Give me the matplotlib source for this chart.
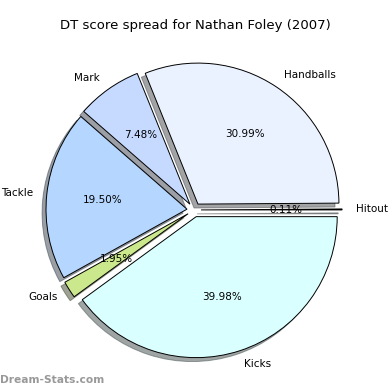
import matplotlib
matplotlib.use('Agg')
import matplotlib.pyplot as plt

labels = ['Hitout', 'Handballs', 'Mark', 'Tackle', 'Goals', 'Kicks']
values = [0.11, 30.99, 7.48, 19.50, 1.95, 39.98]
colors = ['#eaf2ff', '#ebf2ff', '#c6d9ff', '#b5d7ff', '#cbe98c', '#daffff']
explode = [0.05, 0.05, 0.05, 0.05, 0.05, 0.05]

fig = plt.figure(figsize=(3.9, 3.9), dpi=100)
ax = fig.add_axes([0, 0, 1, 1])

wedges, texts, autotexts = ax.pie(values, labels=labels, colors=colors, explode=explode,
                                  autopct='%1.2f%%', shadow=True, startangle=0,
                                  wedgeprops={'edgecolor': 'black', 'linewidth': 0.7},
                                  textprops={'fontsize': 7.5})
ax.set_aspect('equal')
ax.set_xlim(-1.376, 1.390)
ax.set_ylim(-1.277, 1.489)
ax.axis('off')

fig.text(0.5, 0.935, 'DT score spread for Nathan Foley (2007)', ha='center', va='center', fontsize=9.5)
fig.text(0.0, 0.025, 'Dream-Stats.com', ha='left', va='center', fontsize=7.7,
         color='#999999', fontweight='bold')

fig.savefig('out.png', dpi=100)
